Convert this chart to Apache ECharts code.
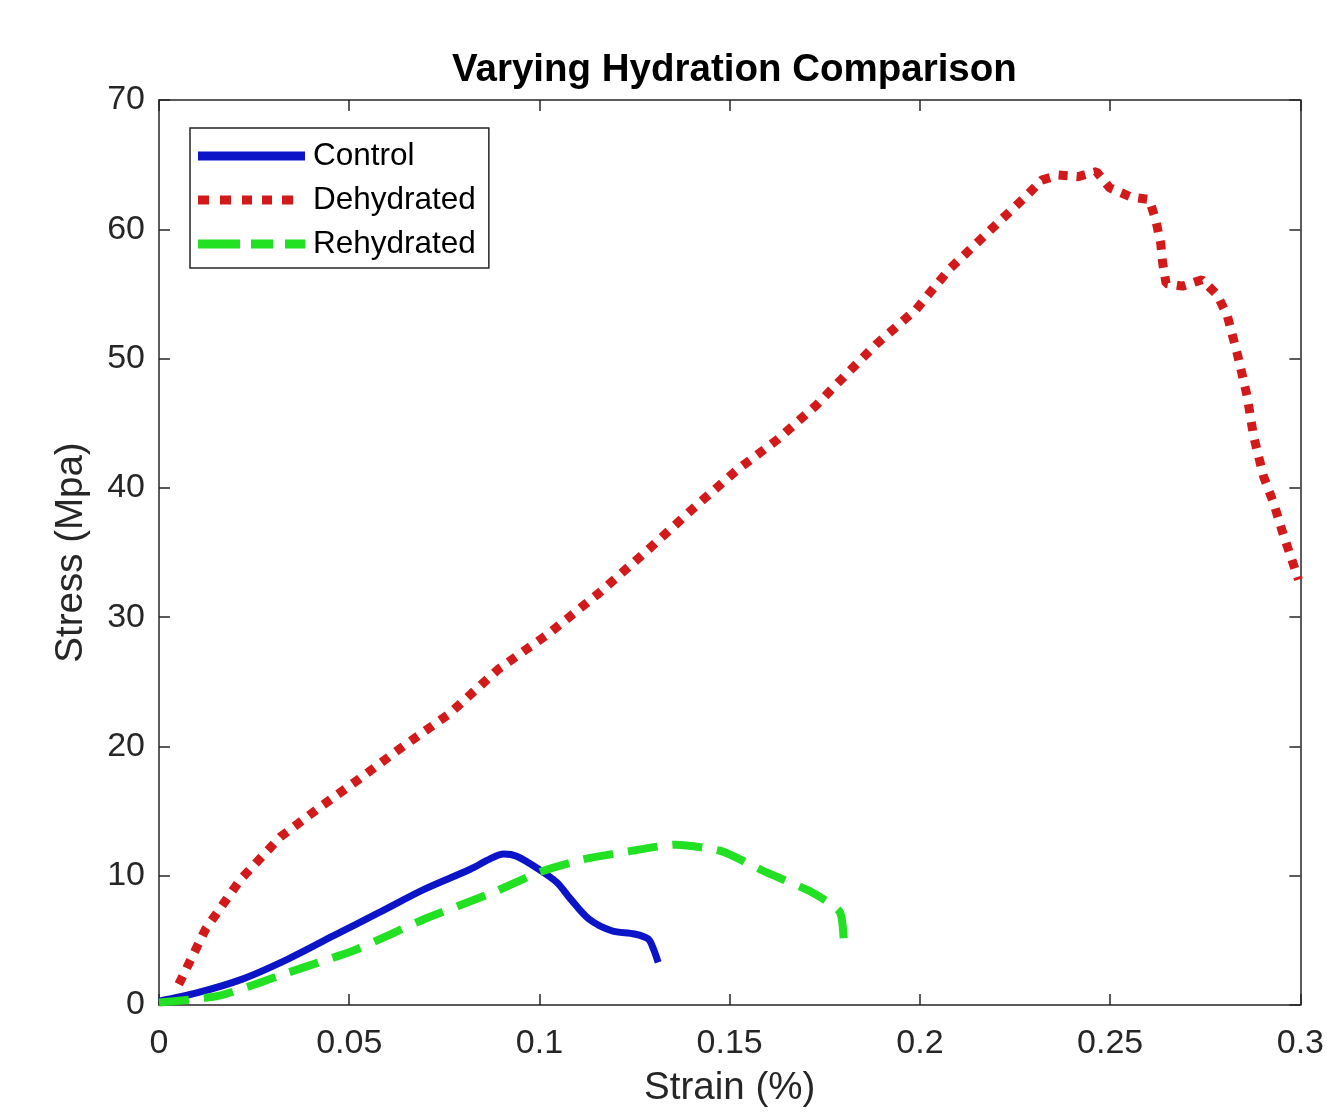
<!DOCTYPE html>
<html>
<head>
<meta charset="utf-8">
<script src="https://cdn.jsdelivr.net/npm/echarts@6/dist/echarts.min.js"></script>
<style>html,body{margin:0;padding:0;background:#fff;overflow:hidden;}#c{width:1327px;height:1114px;}</style>
</head>
<body>
<div id="c"></div>
<script>
var xTicks = [0, 0.05, 0.1, 0.15, 0.2, 0.25, 0.3];
var yTicks = [0, 10, 20, 30, 40, 50, 60, 70];

var controlX = [0, 0.0099, 0.0219, 0.0339, 0.0459, 0.0579, 0.0698, 0.0818, 0.0870, 0.0906, 0.0940, 0.0998, 0.1046, 0.1082, 0.1130, 0.1190, 0.1250, 0.1286, 0.1300, 0.1312];
var controlY = [0.3, 0.93, 2.0, 3.55, 5.36, 7.16, 8.96, 10.5, 11.3, 11.67, 11.5, 10.5, 9.48, 8.19, 6.65, 5.74, 5.49, 5.1, 4.3, 3.3];

var dehydratedX = [0.0052, 0.0123, 0.0214, 0.0319, 0.0423, 0.0527, 0.0632, 0.0762, 0.0893, 0.1023, 0.1154, 0.1285, 0.1415, 0.152, 0.1624, 0.1728, 0.1807, 0.1885, 0.199, 0.2077, 0.2198, 0.2277, 0.232, 0.2364, 0.2416, 0.2464, 0.2499, 0.2555, 0.2603, 0.262, 0.2633, 0.2638, 0.2647, 0.269, 0.2742, 0.2782, 0.2808, 0.2834, 0.286, 0.2877, 0.2903, 0.293, 0.2956, 0.2977, 0.2995];
var dehydratedY = [1.6, 5.9, 9.7, 13.0, 15.3, 17.5, 19.8, 22.5, 26.0, 28.7, 31.8, 35.2, 38.7, 41.4, 43.7, 46.4, 48.8, 51.1, 53.8, 56.9, 60.3, 62.5, 63.8, 64.2, 64.07, 64.46, 63.2, 62.5, 62.3, 60.7, 58.9, 57.4, 55.8, 55.6, 56.1, 54.9, 53.3, 50.4, 47.1, 44.0, 40.9, 38.8, 36.3, 34.5, 32.9];

var rehydratedX = [0, 0.0159, 0.0339, 0.0519, 0.0698, 0.0878, 0.0998, 0.1118, 0.1238, 0.1358, 0.1478, 0.1597, 0.1717, 0.1790, 0.1801];
var rehydratedY = [0.2, 0.72, 2.5, 4.3, 6.65, 8.7, 10.25, 11.28, 11.9, 12.4, 11.9, 10.25, 8.7, 7.16, 4.07];

function pairs(xs, ys) { return xs.map(function (x, i) { return [x, ys[i]]; }); }

var FONT = 'Liberation Sans, Arial, Helvetica, sans-serif';
var AX = '#262626';
var BLUE = '#0c14c8', RED = '#d31a1a', GREEN = '#22e022';

// legend icons (107 x 9 boxes)
var iconSolid = 'path://M0,0H107V9H0Z';
var iconDotted = 'path://M0,0H107V0.01H106.99Z M0,0H11V9H0Z M22,0H33V9H22Z M44,0H54V9H44Z M64,0H74V9H64Z M84,0H95V9H84Z M106.99,8.99H107V9H106.99Z';
var iconDashed = 'path://M0,0H107V0.01H106.99Z M0,0H42V9H0Z M53,0H75V9H53Z M87,0H107V9H87Z M0,8.99H0.01V9H0Z';

var chart = echarts.init(document.getElementById('c'), null, { renderer: 'canvas' });
var axisCommon = {
  axisLine: { show: true, onZero: false, lineStyle: { color: AX, width: 1.5 } },
  axisTick: { show: true, inside: true, length: 11, lineStyle: { color: AX, width: 1.5 } },
  splitLine: { show: false }
};
chart.setOption({
  animation: false,
  backgroundColor: '#ffffff',
  title: {
    text: 'Varying Hydration Comparison',
    left: 447, top: 46,
    textStyle: { fontFamily: FONT, fontSize: 38.5, fontWeight: 'bold', color: '#000' }
  },
  grid: { left: 159, right: 20, top: 100, bottom: 109, containLabel: false },
  legend: {
    orient: 'vertical', left: 190, top: 128,
    backgroundColor: '#fff', borderColor: AX, borderWidth: 1.5,
    padding: [12, 13, 8, 8],
    itemWidth: 107, itemHeight: 9, itemGap: 12,
    textStyle: { fontFamily: FONT, fontSize: 31.5, color: '#000', padding: [0, 0, 0, 3] },
    data: [
      { name: 'Control', icon: iconSolid, itemStyle: { color: BLUE } },
      { name: 'Dehydrated', icon: iconDotted, itemStyle: { color: RED } },
      { name: 'Rehydrated', icon: iconDashed, itemStyle: { color: GREEN } }
    ]
  },
  xAxis: [Object.assign({
    type: 'value', min: xTicks[0], max: xTicks[xTicks.length - 1], interval: 0.05,
    position: 'bottom',
    name: 'Strain (%)', nameLocation: 'middle', nameGap: 64,
    nameTextStyle: { fontFamily: FONT, fontSize: 38.5, color: AX },
    axisLabel: { fontFamily: FONT, fontSize: 34, color: AX, margin: 22 }
  }, axisCommon), Object.assign({
    type: 'value', min: xTicks[0], max: xTicks[xTicks.length - 1], interval: 0.05,
    position: 'top', axisLabel: { show: false }
  }, axisCommon)],
  yAxis: [Object.assign({
    type: 'value', min: yTicks[0], max: yTicks[yTicks.length - 1], interval: 10,
    position: 'left',
    name: 'Stress (Mpa)', nameLocation: 'middle', nameGap: 68,
    nameTextStyle: { fontFamily: FONT, fontSize: 38.5, color: AX },
    axisLabel: { fontFamily: FONT, fontSize: 34, color: AX, margin: 14 }
  }, axisCommon), Object.assign({
    type: 'value', min: yTicks[0], max: yTicks[yTicks.length - 1], interval: 10,
    position: 'right', axisLabel: { show: false }
  }, axisCommon)],
  series: [
    {
      name: 'Control', type: 'line', data: pairs(controlX, controlY),
      showSymbol: false, symbol: 'none', smooth: 0.3,
      color: BLUE,
      lineStyle: { color: BLUE, width: 7, type: 'solid' }
    },
    {
      name: 'Dehydrated', type: 'line', data: pairs(dehydratedX, dehydratedY),
      showSymbol: false, symbol: 'none',
      color: RED,
      lineStyle: { color: RED, width: 9, type: [9, 9], cap: 'butt' }
    },
    {
      name: 'Rehydrated', type: 'line', data: pairs(rehydratedX, rehydratedY),
      showSymbol: false, symbol: 'none', smooth: 0.2,
      color: GREEN,
      lineStyle: { color: GREEN, width: 8, type: [30, 15], cap: 'butt' }
    }
  ]
});
</script>
</body>
</html>
